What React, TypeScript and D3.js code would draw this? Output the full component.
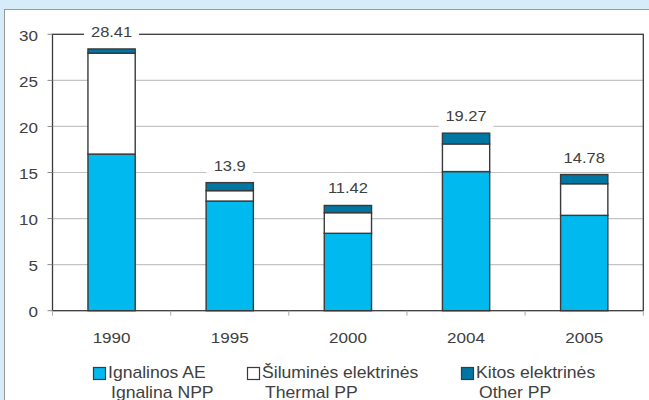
import React from "react";
import * as d3 from "d3";

const years = ["1990", "1995", "2000", "2004", "2005"];
const ignalina = [17.0, 11.9, 8.4, 15.1, 10.35];
const thermal = [10.95, 1.13, 2.24, 3.0, 3.43];
const other = [0.46, 0.87, 0.78, 1.17, 1.0];
const totals = ["28.41", "13.9", "11.42", "19.27", "14.78"];
const yTicks = [0, 5, 10, 15, 20, 25, 30];
const seriesNames = [
  ["Ignalinos AE", "Ignalina NPP"],
  ["Šiluminės elektrinės", "Thermal PP"],
  ["Kitos elektrinės", "Other PP"],
];
const colors = ["#00b9ee", "#ffffff", "#0076a2"];

const W = 649;
const H = 400;
const FONT = "'Liberation Sans', Arial, sans-serif";
const SX = 1.1;

export default function App() {
  const x0 = 52.5, x1 = 643.3, yBot = 310.7, yTop = 34.3;
  const x = d3.scaleBand<string>().domain(years).range([x0, x1]).paddingInner(0.6).paddingOuter(0.3);
  const y = d3.scaleLinear().domain([0, 30]).range([yBot, yTop]);
  const data = years.map((yr, i) => ({ year: yr, a: ignalina[i], b: thermal[i], c: other[i] }));
  const stack = d3.stack<any>().keys(["a", "b", "c"])(data);
  const catW = (x1 - x0) / years.length;
  const txt = (tx: number, ty: number, s: string, anchor: string, size: number, key?: any) => (
    <text key={key} transform={`translate(${tx},${ty}) scale(${SX},1)`} textAnchor={anchor as any}
      fontFamily={FONT} fontSize={size} fill="#404040">{s}</text>
  );
  const legendX = [93, 247, 461];
  return (
    <svg width={W} height={H} style={{ position: "absolute", left: 0, top: 0 }}>
      <rect x={0} y={0} width={W} height={H} fill="#d6ecf9" />
      <rect x={4.5} y={9.5} width={W + 10} height={H + 10} fill="#ffffff" stroke="#9a9a9a" strokeWidth={1} />
      {yTicks.filter(t => t > 0 && t < 30).map(t => (
        <line key={t} x1={x0} x2={x1} y1={y(t)} y2={y(t)} stroke="#c4c4c4" strokeWidth={1.2} />
      ))}
      <rect x={x0} y={yTop} width={x1 - x0} height={yBot - yTop} fill="none" stroke="#3a3a3a" strokeWidth={1.3} />
      {yTicks.map(t => (
        <g key={t}>
          <line x1={x0 - 5} x2={x0} y1={y(t)} y2={y(t)} stroke="#888" strokeWidth={1} />
          {txt(38, y(t) + 6.2, String(t), "end", 15.5)}
        </g>
      ))}
      <line x1={x0} x2={x0} y1={yBot} y2={yBot + 5} stroke="#aaa" strokeWidth={1} />
      {years.map((yr, i) => (
        <g key={yr}>
          <line x1={x0 + catW * (i + 1)} x2={x0 + catW * (i + 1)} y1={yBot} y2={yBot + 5} stroke="#aaa" strokeWidth={1} />
          {txt((x(yr) as number) + x.bandwidth() / 2, 343.3, yr, "middle", 15.5)}
        </g>
      ))}
      {stack.map((s, si) => (
        <g key={si}>
          {s.map((d, i) => (
            <rect key={i} x={x(years[i])} width={x.bandwidth()} y={y(d[1])} height={y(d[0]) - y(d[1])}
              fill={colors[si]} stroke="#3a3a3a" strokeWidth={1.4} />
          ))}
        </g>
      ))}
      {years.map((yr, i) => {
        const total = ignalina[i] + thermal[i] + other[i];
        const cx = (x(yr) as number) + x.bandwidth() / 2;
        const by = y(total) - 12;
        const tw = totals[i].length * 8.6;
        return (
          <g key={yr}>
            <rect x={cx - tw / 2 - 6} y={by - 14} width={tw + 12} height={21} fill="#ffffff" />
            {txt(cx, by, totals[i], "middle", 15)}
          </g>
        );
      })}
      {seriesNames.map((n, i) => (
        <g key={i}>
          <rect x={legendX[i] + 0.5} y={367.5} width={12} height={12} fill={colors[i]} stroke="#3a3a3a" strokeWidth={1.2} />
          {txt(legendX[i] + 15, 378, n[0], "start", 16)}
          {txt(legendX[i] + 18, 397.5, n[1], "start", 16)}
        </g>
      ))}
    </svg>
  );
}
